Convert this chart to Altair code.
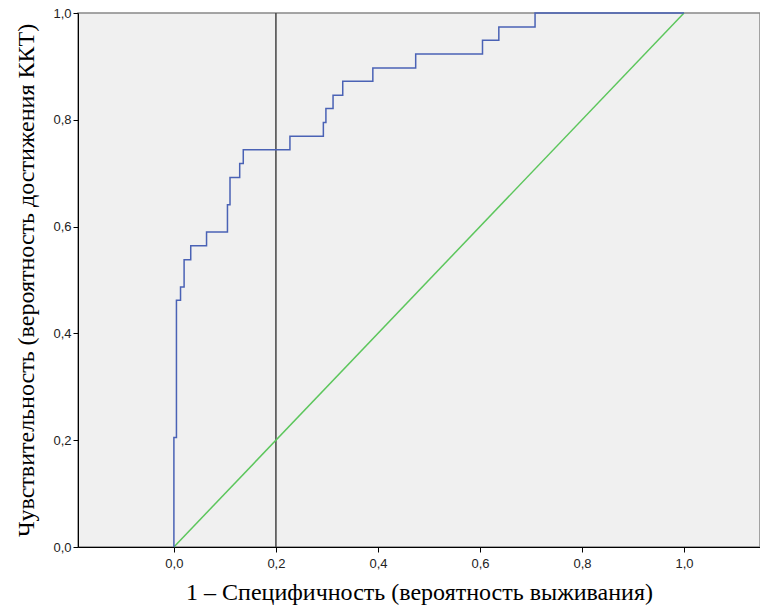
import altair as alt
import pandas as pd

# ROC curve points (1 - specificity, sensitivity)
fpr = [0.0, 0.0, 0.005, 0.013, 0.020, 0.033, 0.064, 0.105, 0.110, 0.129, 0.136,
       0.2275, 0.293, 0.298, 0.312, 0.331, 0.390, 0.474, 0.605, 0.637, 0.708, 1.0]
tpr = [0.0, 0.205, 0.462, 0.487, 0.538, 0.564, 0.590, 0.641, 0.692, 0.718, 0.744,
       0.769, 0.795, 0.821, 0.846, 0.872, 0.897, 0.923, 0.949, 0.974, 1.0, 1.0]

diag_x = [0.0, 1.0]
diag_y = [0.0, 1.0]
cutoff_x = [0.2]
ticks = [0.0, 0.2, 0.4, 0.6, 0.8, 1.0]

roc = pd.DataFrame({"x": fpr, "y": tpr, "i": list(range(len(fpr)))})
diag = pd.DataFrame({"x": diag_x, "y": diag_y})
cut = pd.DataFrame({"x": cutoff_x})

label_expr = "replace(format(datum.value, '.1f'), '.', ',')"

xscale = alt.Scale(domain=[-0.188, 1.149], nice=False, zero=False)
yscale = alt.Scale(domain=[0, 1], nice=False)

xaxis = alt.Axis(values=ticks, labelExpr=label_expr, grid=False,
                 title="1 – Специфичность (вероятность выживания)",
                 titleFont="Liberation Serif", titleFontSize=24, titleFontWeight="normal",
                 titleColor="#000", titlePadding=10,
                 labelFont="Liberation Sans Narrow, Liberation Sans", labelFontSize=13, labelColor="#222",
                 domainColor="#000", tickColor="#000", tickSize=5, labelPadding=5)
yaxis = alt.Axis(values=ticks, labelExpr=label_expr, grid=False,
                 title="Чувствительность (вероятность достижения ККТ)",
                 titleFont="Liberation Serif", titleFontSize=24, titleFontWeight="normal",
                 titleColor="#000", titlePadding=14,
                 labelFont="Liberation Sans Narrow, Liberation Sans", labelFontSize=13, labelColor="#222",
                 domainColor="#000", tickColor="#000", tickSize=5, labelPadding=2)

cut_line = alt.Chart(cut).mark_rule(color="#444", strokeWidth=1.5).encode(
    x=alt.X("x:Q", scale=xscale, axis=xaxis),
)

diag_line = alt.Chart(diag).mark_line(color="#5cc65c", strokeWidth=1.5).encode(
    x=alt.X("x:Q", scale=xscale, axis=xaxis),
    y=alt.Y("y:Q", scale=yscale, axis=yaxis),
)

roc_line = alt.Chart(roc).mark_line(color="#4a62b5", strokeWidth=1.5,
                                    interpolate="step-after").encode(
    x=alt.X("x:Q", scale=xscale, axis=xaxis),
    y=alt.Y("y:Q", scale=yscale, axis=yaxis),
    order="i:Q",
)

chart = alt.layer(cut_line, diag_line, roc_line).properties(
    width=682, height=534,
    autosize=alt.AutoSizeParams(type="none"),
    padding={"left": 70, "top": 5, "right": 0, "bottom": 58},
    background="white",
).configure_view(
    fill="#f0f0f0", stroke="#888", strokeWidth=1.5
)

chart.save("out.html", embed_options={"renderer": "svg", "actions": False})
